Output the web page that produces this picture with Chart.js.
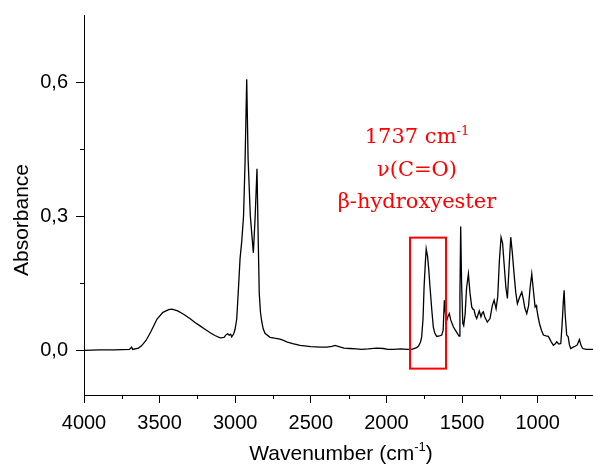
<!DOCTYPE html>
<html>
<head>
<meta charset="utf-8">
<script src="https://cdn.jsdelivr.net/npm/chart.js@4.4.0/dist/chart.umd.min.js"></script>
<style>
  body { margin: 0; background: #fff; }
  #wrap { width: 593px; height: 465px; position: relative; }
</style>
</head>
<body>
<div id="wrap"><canvas id="irChart"></canvas></div>
<script>
// IR spectrum (wavenumber in cm-1, absorbance)
const wavenumbers = [
  4000, 3900, 3800, 3700, 3685, 3678, 3640, 3620, 3590, 3559, 3517, 3478, 3440, 3418,
  3380, 3339, 3300, 3266, 3230, 3200, 3160, 3134, 3100, 3074, 3060, 3050, 3040, 3030,
  3023, 3010, 3001, 2990, 2980, 2968, 2957, 2945, 2935, 2924, 2915, 2900, 2880, 2868,
  2856, 2848, 2841, 2833, 2825, 2815, 2803, 2770, 2740, 2704, 2680, 2660, 2620, 2571,
  2500, 2439, 2395, 2360, 2340, 2320, 2280, 2241, 2200, 2164, 2120, 2064, 2020, 1990,
  1954, 1900, 1866, 1833, 1800, 1789, 1775, 1767, 1758, 1751, 1742, 1737, 1728, 1720,
  1712, 1700, 1690, 1680, 1667, 1650, 1634, 1625, 1617, 1609, 1601, 1593, 1584, 1575,
  1557, 1535, 1520, 1514, 1509, 1503, 1495, 1489, 1480, 1470, 1458, 1448, 1436, 1428,
  1421, 1412, 1403, 1394, 1386, 1375, 1367, 1359, 1350, 1333, 1315, 1300, 1288, 1275,
  1264, 1253, 1242, 1232, 1222, 1210, 1200, 1190, 1178, 1168, 1156, 1145, 1134, 1120,
  1105, 1095, 1085, 1072, 1060, 1050, 1039, 1030, 1017, 1010, 1006, 997, 988, 975,
  962, 945, 929, 912, 896, 885, 874, 860, 847, 838, 830, 825, 818, 808,
  798, 790, 781, 765, 752, 738, 724, 712, 702, 680, 653, 634
];
const absorbance = [
  0.000, 0.001, 0.001, 0.002, 0.007, 0.002, 0.005, 0.010, 0.022, 0.041, 0.070, 0.085, 0.091, 0.092,
  0.088, 0.080, 0.071, 0.062, 0.054, 0.047, 0.038, 0.033, 0.028, 0.029, 0.035, 0.037, 0.034, 0.036,
  0.030, 0.037, 0.047, 0.070, 0.130, 0.205, 0.243, 0.300, 0.420, 0.606, 0.430, 0.300, 0.218, 0.300,
  0.406, 0.250, 0.127, 0.085, 0.065, 0.048, 0.038, 0.029, 0.027, 0.025, 0.022, 0.019, 0.015, 0.011,
  0.008, 0.007, 0.007, 0.009, 0.011, 0.009, 0.005, 0.004, 0.003, 0.002, 0.003, 0.005, 0.004, 0.002,
  0.002, 0.003, 0.002, 0.002, 0.006, 0.009, 0.018, 0.030, 0.070, 0.142, 0.200, 0.227, 0.210, 0.180,
  0.142, 0.090, 0.052, 0.038, 0.031, 0.032, 0.034, 0.045, 0.112, 0.080, 0.067, 0.076, 0.082, 0.068,
  0.052, 0.040, 0.032, 0.120, 0.277, 0.150, 0.060, 0.055, 0.080, 0.140, 0.171, 0.130, 0.097, 0.092,
  0.091, 0.078, 0.071, 0.080, 0.088, 0.075, 0.083, 0.086, 0.075, 0.063, 0.071, 0.100, 0.112, 0.093,
  0.120, 0.201, 0.253, 0.240, 0.194, 0.140, 0.116, 0.180, 0.253, 0.220, 0.171, 0.130, 0.104, 0.118,
  0.130, 0.115, 0.095, 0.082, 0.100, 0.140, 0.171, 0.140, 0.097, 0.100, 0.093, 0.075, 0.060, 0.045,
  0.034, 0.032, 0.031, 0.020, 0.011, 0.014, 0.019, 0.014, 0.015, 0.060, 0.110, 0.134, 0.080, 0.034,
  0.030, 0.012, 0.004, 0.007, 0.009, 0.012, 0.024, 0.010, 0.004, 0.002, 0.002, 0.002
];

const xTicks = [4000, 3500, 3000, 2500, 2000, 1500, 1000];
const xMinorTicks = [3750, 3250, 2750, 2250, 1750, 1250, 750];
const yTicks = [0, 0.3, 0.6];
const yTickLabels = ["0,0", "0,3", "0,6"];
const yMinorTicks = [0.15, 0.45];

// carbonyl band that is boxed and labelled
const bandWavenumbers = [1844, 1606];
const bandAbsorbance = [-0.041, 0.252];
const noteLines = ["1737 cm", "ν(C=O)", "β-hydroxyester"];

function drawWithSup(ctx, main, sup, tail, cx, baseline, font, supFont, raise) {
  ctx.font = font;
  const w1 = ctx.measureText(main).width;
  const w3 = ctx.measureText(tail).width;
  ctx.font = supFont;
  const w2 = ctx.measureText(sup).width;
  let x0 = cx - (w1 + w2 + w3) / 2;
  ctx.textAlign = "left";
  ctx.textBaseline = "alphabetic";
  ctx.font = font;
  ctx.fillText(main, x0, baseline);
  ctx.font = supFont;
  ctx.fillText(sup, x0 + w1, baseline - raise);
  ctx.font = font;
  ctx.fillText(tail, x0 + w1 + w2, baseline);
}

const extras = {
  id: "extras",
  afterDatasetsDraw(chart) {
    const { ctx, scales: { x, y } } = chart;
    ctx.save();
    // red box round the C=O band
    const l = x.getPixelForValue(bandWavenumbers[0]);
    const r = x.getPixelForValue(bandWavenumbers[1]);
    const t = y.getPixelForValue(bandAbsorbance[1]);
    const b = y.getPixelForValue(bandAbsorbance[0]);
    ctx.strokeStyle = "#ff0000";
    ctx.lineWidth = 2;
    ctx.strokeRect(l, t, r - l, b - t);
    ctx.restore();
  },
  afterDraw(chart) {
    const { ctx, scales: { x, y } } = chart;
    ctx.save();
    ctx.strokeStyle = "#000";
    ctx.lineWidth = 1;
    ctx.beginPath();
    xMinorTicks.forEach(v => {
      const px = Math.round(x.getPixelForValue(v)) + 0.5;
      ctx.moveTo(px, y.bottom);
      ctx.lineTo(px, y.bottom + 4);
    });
    yMinorTicks.forEach(v => {
      const py = Math.round(y.getPixelForValue(v)) + 0.5;
      ctx.moveTo(x.left, py);
      ctx.lineTo(x.left - 4, py);
    });
    ctx.stroke();

    // annotation text
    ctx.fillStyle = "#ff0000";
    const cx = x.getPixelForValue(1798);
    const serif = "21px 'DejaVu Serif'";
    drawWithSup(ctx, noteLines[0], "-1", "", cx, y.getPixelForValue(0.464), serif, "13px 'DejaVu Serif'", 8);
    ctx.font = serif;
    ctx.textAlign = "center";
    ctx.fillText(noteLines[1], cx, y.getPixelForValue(0.390));
    ctx.fillText(noteLines[2], cx, y.getPixelForValue(0.3175));

    // axis titles
    ctx.fillStyle = "#000";
    drawWithSup(ctx, "Wavenumber (cm", "-1", ")", 341, 460, "21px 'Liberation Sans'", "13px 'Liberation Sans'", 9);
    ctx.translate(28, 220);
    ctx.rotate(-Math.PI / 2);
    ctx.font = "21px 'Liberation Sans'";
    ctx.textAlign = "center";
    ctx.textBaseline = "alphabetic";
    ctx.fillText("Absorbance", 0, 0);
    ctx.restore();
  }
};

const ctx = document.getElementById("irChart");
new Chart(ctx, {
  type: "line",
  data: {
    labels: wavenumbers,
    datasets: [{
      data: wavenumbers.map((w, i) => ({ x: w, y: absorbance[i] })),
      borderColor: "#000",
      borderWidth: 1.3,
      pointRadius: 0,
      tension: 0,
      fill: false
    }]
  },
  options: {
    responsive: true,
    maintainAspectRatio: false,
    animation: false,
    layout: { padding: { top: 15, right: 0, left: 0, bottom: 0 } },
    plugins: {
      legend: { display: false },
      tooltip: { enabled: false }
    },
    scales: {
      x: {
        type: "linear",
        reverse: true,
        min: 634,
        max: 4000,
        afterBuildTicks: s => { s.ticks = xTicks.map(v => ({ value: v })); },
        afterFit: s => { s.height = 70; s.paddingLeft = 0; s.paddingRight = 0; },
        grid: { drawOnChartArea: false, drawTicks: true, tickLength: 8, tickColor: "#000" },
        border: { display: true, color: "#000", width: 1 },
        ticks: {
          color: "#000",
          font: { family: "'Liberation Sans'", size: 20 },
          padding: 8,
          maxRotation: 0,
          autoSkip: false,
          callback: v => String(v)
        }
      },
      y: {
        min: -0.1,
        max: 0.75,
        afterBuildTicks: s => { s.ticks = yTicks.map(v => ({ value: v })); },
        afterFit: s => { s.width = 84; s.paddingTop = 0; s.paddingBottom = 0; },
        grid: { drawOnChartArea: false, drawTicks: true, tickLength: 8, tickColor: "#000" },
        border: { display: true, color: "#000", width: 1 },
        ticks: {
          color: "#000",
          font: { family: "'Liberation Sans'", size: 20 },
          padding: 8,
          callback: (v, i) => yTickLabels[i]
        }
      }
    }
  },
  plugins: [extras]
});
</script>
</body>
</html>
